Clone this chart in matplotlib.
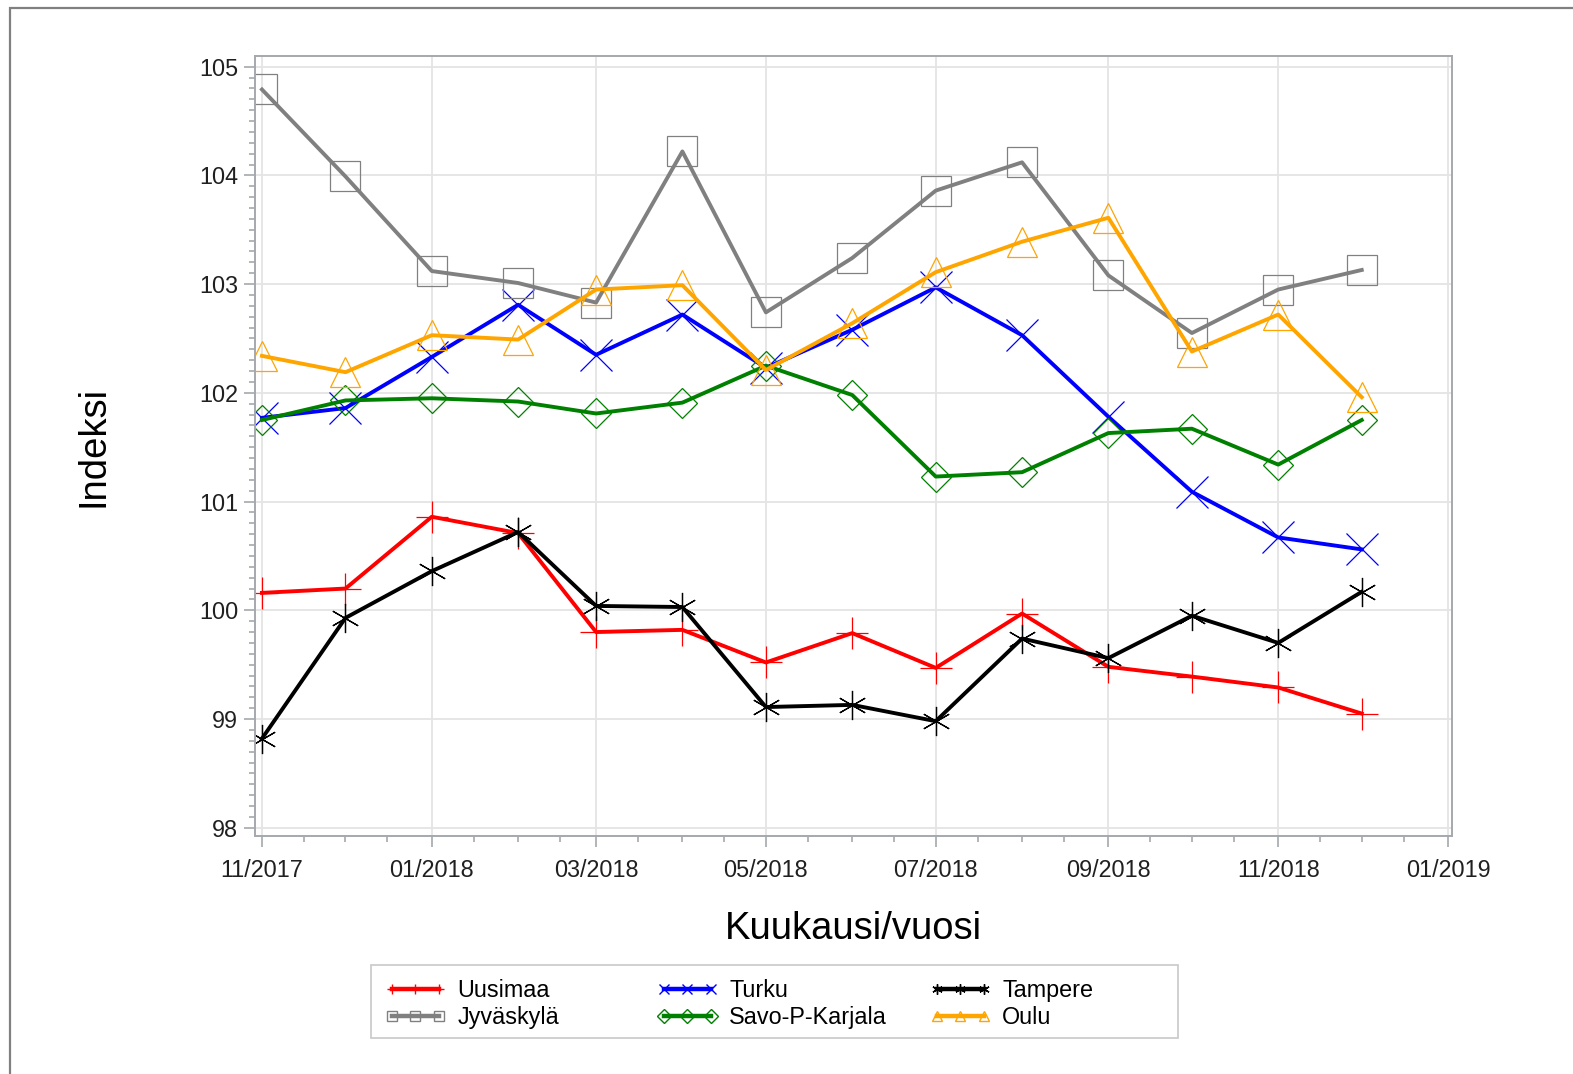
import datetime as dt

import matplotlib
matplotlib.use("Agg")
import matplotlib.pyplot as plt
import matplotlib.dates as mdates
import pandas as pd
from matplotlib.lines import Line2D
from matplotlib.patches import Rectangle
from matplotlib.ticker import MultipleLocator

plt.rcParams['font.family'] = ['Liberation Sans', 'DejaVu Sans']

# kuukaudet 11/2017 - 12/2018
months = ["11/2017", "12/2017", "01/2018", "02/2018", "03/2018", "04/2018", "05/2018",
          "06/2018", "07/2018", "08/2018", "09/2018", "10/2018", "11/2018", "12/2018"]

uusimaa = [100.16, 100.20, 100.86, 100.71, 99.80, 99.82, 99.52,
           99.79, 99.47, 99.97, 99.48, 99.39, 99.29, 99.05]
turku = [101.77, 101.86, 102.33, 102.81, 102.35, 102.72, 102.23,
         102.58, 102.97, 102.53, 101.78, 101.09, 100.67, 100.56]
tampere = [98.82, 99.93, 100.36, 100.72, 100.04, 100.03, 99.11,
           99.13, 98.98, 99.74, 99.56, 99.95, 99.70, 100.17]
jyvaskyla = [104.79, 103.99, 103.12, 103.01, 102.83, 104.22, 102.74,
             103.24, 103.86, 104.12, 103.08, 102.55, 102.95, 103.13]
savo = [101.75, 101.93, 101.95, 101.92, 101.81, 101.91, 102.25,
        101.98, 101.23, 101.27, 101.63, 101.67, 101.34, 101.75]
oulu = [102.34, 102.19, 102.53, 102.49, 102.95, 102.99, 102.21,
        102.64, 103.11, 103.39, 103.61, 102.38, 102.72, 101.96]

names = ["Uusimaa", "Turku", "Tampere", "Jyväskylä", "Savo-P-Karjala", "Oulu"]
values = [uusimaa, turku, tampere, jyvaskyla, savo, oulu]
colors = ["#ff0000", "#0000ff", "#000000", "#808080", "#008000", "#ffa500"]
markers = ["+", "x", (6, 2, 0), "s", "D", "^"]
msizes = [23, 23, 21, 22, 15.5, 22]

x = pd.to_datetime(months, format="%m/%Y")

fig = plt.figure(figsize=(15.73, 10.74), dpi=100)
ax = fig.add_axes([255/1573, 1-836/1074, (1452-255)/1573, (836-56)/1074])

for name, v, c, m, s in zip(names, values, colors, markers, msizes):
    ax.plot(x, v, color=c, lw=2.8, marker=m, markersize=s, mew=0.9,
            mfc='none', mec=c, label=name)

ax.set_xlim(dt.datetime(2017, 10, 29, 12), dt.datetime(2019, 1, 2, 10))
ax.set_ylim(97.924, 105.098)

ax.xaxis.set_major_locator(mdates.MonthLocator(bymonth=[1, 3, 5, 7, 9, 11]))
ax.xaxis.set_major_formatter(mdates.DateFormatter("%m/%Y"))
ax.xaxis.set_minor_locator(mdates.DayLocator(bymonthday=[1, 16]))
ax.yaxis.set_major_locator(MultipleLocator(1))
ax.yaxis.set_minor_locator(MultipleLocator(0.1))

spine_c = '#a5a9ad'
for sp in ax.spines.values():
    sp.set_color(spine_c)
    sp.set_linewidth(1.4)
ax.tick_params(which='major', length=8, width=1.2, color=spine_c,
               labelsize=16.8, labelcolor='#202020')
ax.tick_params(which='minor', length=4.5, width=1.2, color=spine_c)
ax.tick_params(axis='x', which='major', pad=8.5)
ax.tick_params(axis='y', which='major', pad=4)
ax.grid(True, which='major', color='#e4e4e4', lw=1.3)
ax.set_axisbelow(True)

ax.set_xlabel("Kuukausi/vuosi", fontsize=27.5, color='#000000')
ax.xaxis.set_label_coords(0.5, -0.096)
ax.set_ylabel("Indeksi", fontsize=27.5, color='#000000')
ax.yaxis.set_label_coords(-0.12, 0.5)

# legenda: kolme saraketta omilla paikoillaan, yhteinen kehys
fig.patches.append(Rectangle((371/1573, 1-1038/1074), 807/1573, 73/1074,
                             transform=fig.transFigure, fill=False,
                             ec='#c8c8c8', lw=1.2))
col_x = [385, 657, 930]
for i in range(3):
    hs = []
    for j in (i, i+3):
        hs.append(Line2D([], [], color=colors[j], lw=3.2, marker=markers[j],
                         markersize=7.5, mew=1, mfc='none', mec=colors[j],
                         label=names[j]))
    fig.legend(handles=hs, loc='upper left',
               bbox_to_anchor=(col_x[i]/1573, 1-979/1074),
               frameon=False, fontsize=16.8, handlelength=2.6,
               handletextpad=0.5, labelspacing=0.18, numpoints=3,
               borderpad=0, borderaxespad=0)

# ulkokehys
fig.patches.append(Rectangle((10/1573, -0.1), 1.2, 1.1 - 8/1074,
                             transform=fig.transFigure, fill=False,
                             ec='#808080', lw=1.6))

fig.savefig("out.png", dpi=100)
